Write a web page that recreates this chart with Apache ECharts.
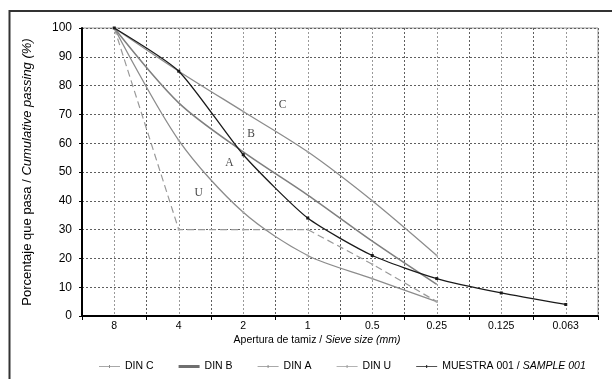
<!DOCTYPE html>
<html><head><meta charset="utf-8">
<script src="https://cdn.jsdelivr.net/npm/echarts@6/dist/echarts.min.js"></script>
<style>html,body{margin:0;padding:0;background:#fff}#c{width:612px;height:379px}</style>
</head><body><div id="c"></div>
<script>
// Sieve sizes (mm), evenly spaced (log scale)
const sieves = ['8', '4', '2', '1', '0.5', '0.25', '0.125', '0.063'];
// Cumulative passing (%)
const dinC   = [100, 85, 71, 57, 40, 21, null, null];
const dinB   = [100, 74, 57, 42, 26, 11, null, null];
const dinA   = [100, 61, 36, 21, 13, 5, null, null];
const dinU   = [100, 30, 30, 30, 18, 5, null, null];
const sample = [100, 85, 56, 34, 21, 13, 8, 4];
// Curve letters: [text, position on half-step grid axis (0..16), % value]
const curveLetters = [['C', 6.22, 73.2], ['B', 5.24, 63.1], ['A', 4.57, 53.0], ['U', 3.62, 42.6]];
const legendNames = ['DIN C', 'DIN B', 'DIN A', 'DIN U', 'MUESTRA 001 / SAMPLE 001'];

const chart = echarts.init(document.getElementById('c'), null, {renderer: 'canvas'});
const FONT = 'Liberation Sans, Arial, sans-serif';
const tickIcon = 'path://M0,1.5 L21,1.5 L21,2.5 L0,2.5 Z M10,0 L11,0 L11,4 L10,4 Z';

chart.setOption({
  animation: false,
  backgroundColor: '#fff',
  textStyle: {fontFamily: FONT},
  grid: {left: 82, right: 14, top: 28, bottom: 63, show: true, borderColor: '#999', borderWidth: 1, backgroundColor: 'transparent'},
  xAxis: [
    {
      type: 'category', data: sieves, boundaryGap: true,
      axisLine: {lineStyle: {color: '#000', width: 2}},
      axisTick: {show: true, length: 4, lineStyle: {color: '#000', width: 1}},
      axisLabel: {fontSize: 10.5, color: '#000', margin: 5, fontFamily: FONT},
      splitLine: {show: false}, z: 5
    },
    {
      type: 'value', min: 0, max: 16, interval: 1, position: 'bottom',
      axisLine: {show: false}, axisTick: {show: false}, axisLabel: {show: false},
      splitLine: {show: true, lineStyle: {color: ['#5f5f5f', '#999'], type: [2, 2], width: 1}}
    }
  ],
  yAxis: {
    type: 'value', min: 0, max: 100, interval: 10,
    axisLine: {show: true, lineStyle: {color: '#000', width: 2}},
    axisTick: {show: true, length: 3, lineStyle: {color: '#000'}},
    axisLabel: {fontSize: 12, color: '#000', margin: 10, fontFamily: FONT},
    splitLine: {show: true, lineStyle: {color: '#5f5f5f', type: [2, 2], width: 1}}
  },
  legend: {
    data: [
      {name: legendNames[0], icon: tickIcon, itemStyle: {color: '#8c8c8c'}},
      {name: legendNames[1], icon: 'rect', itemStyle: {color: '#6f6f6f'}},
      {name: legendNames[2], icon: tickIcon, itemStyle: {color: '#8c8c8c'}},
      {name: legendNames[3], icon: tickIcon, itemStyle: {color: '#9a9a9a'}},
      {name: legendNames[4], icon: tickIcon, itemStyle: {color: '#1a1a1a'}}
    ],
    left: 94, top: 356, itemWidth: 21, itemHeight: 3, itemGap: 25, symbolKeepAspect: false,
    textStyle: {fontSize: 10.5, color: '#000', fontFamily: FONT,
      rich: {n: {fontSize: 10.5, color: '#000', fontFamily: FONT}, i: {fontSize: 10.5, color: '#000', fontStyle: 'italic', fontFamily: FONT}}},
    formatter: function (name) {
      if (name.indexOf('/') > 0) {
        const p = name.split(' / ');
        return '{n|' + p[0] + ' / }{i|' + p[1] + '}';
      }
      return name;
    }
  },
  series: [
    {name: 'DIN C', type: 'line', data: dinC, smooth: 0.3, symbol: 'rect', symbolSize: 2,
      lineStyle: {color: '#8c8c8c', width: 1.3}, itemStyle: {color: '#aaa'}, z: 2},
    {name: 'DIN B', type: 'line', data: dinB, smooth: 0.3, symbol: 'none',
      lineStyle: {color: '#7f7f7f', width: 1.5}, itemStyle: {color: '#7f7f7f'}, z: 2},
    {name: 'DIN A', type: 'line', data: dinA, smooth: 0.3, symbol: 'rect', symbolSize: 2,
      lineStyle: {color: '#8c8c8c', width: 1.3}, itemStyle: {color: '#aaa'}, z: 2},
    {name: 'DIN U', type: 'line', data: dinU, smooth: false, symbol: 'rect', symbolSize: 2,
      lineStyle: {color: '#999', width: 1.2, type: [7, 4]}, itemStyle: {color: '#aaa'}, z: 2},
    {name: 'MUESTRA 001 / SAMPLE 001', type: 'line', data: sample, smooth: 0.2, symbol: 'rect', symbolSize: 3,
      lineStyle: {color: '#1a1a1a', width: 1.3}, itemStyle: {color: '#1a1a1a'}, z: 4},
    {name: 'letters', type: 'scatter', xAxisIndex: 1, silent: true, symbolSize: 1,
      itemStyle: {color: 'rgba(0,0,0,0)'},
      data: curveLetters.map(d => ({name: d[0], value: [d[1], d[2]]})),
      label: {show: true, position: 'inside', formatter: '{b}', fontFamily: 'Liberation Serif, Times New Roman, serif', fontSize: 11.5, color: '#111'}, z: 6}
  ],
  graphic: [
    {type: 'rect', shape: {x: 9.5, y: 11, width: 700, height: 500}, style: {fill: 'none', stroke: '#333', lineWidth: 2}, z: 0, silent: true},
    {type: 'text', x: 27, y: 172, rotation: Math.PI / 2, silent: true,
      style: {text: '{a|Porcentaje que pasa / }{b|Cumulative passing (%)}', align: 'center', verticalAlign: 'middle',
        rich: {a: {fontSize: 13, fill: '#000', fontFamily: FONT}, b: {fontSize: 13, fill: '#000', fontStyle: 'italic', fontFamily: FONT}}}},
    {type: 'text', x: 317, y: 340.5, silent: true,
      style: {text: '{a|Apertura de tamiz / }{b|Sieve size (mm)}', align: 'center', verticalAlign: 'middle',
        rich: {a: {fontSize: 10.5, fill: '#000', fontFamily: FONT}, b: {fontSize: 10.5, fill: '#000', fontStyle: 'italic', fontFamily: FONT}}}}
  ]
});
</script></body></html>
